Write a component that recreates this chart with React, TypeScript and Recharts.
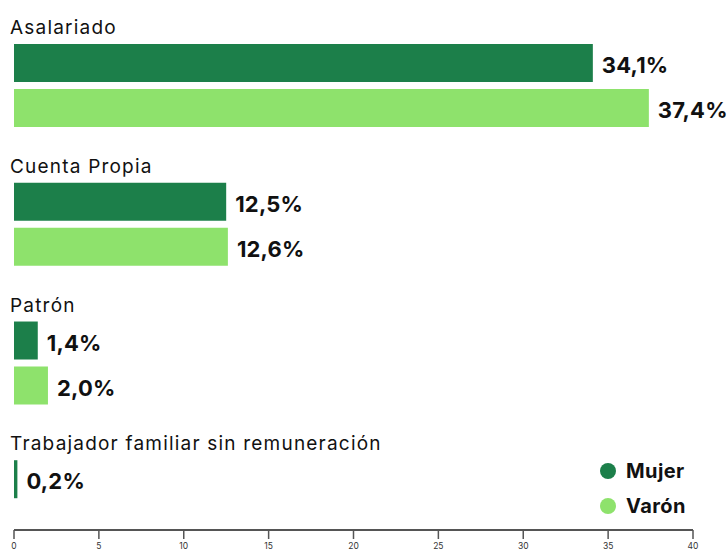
import React from 'react';
import { BarChart, Bar, XAxis, YAxis, Legend, LabelList } from 'recharts';

const categorias = ['Asalariado', 'Cuenta Propia', 'Patrón', 'Trabajador familiar sin remuneración'];
const mujer = [34.1, 12.5, 1.4, 0.2];
const varon: (number | null)[] = [37.4, 12.6, 2.0, null];
const ejeTicks = [0, 5, 10, 15, 20, 25, 30, 35, 40];

const COLOR_MUJER = '#1c7f4a';
const COLOR_VARON = '#8ee26c';
const FONT = 'Inter, "Noto Sans", sans-serif';

const data = categorias.map((categoria, i) => ({
  idx: i,
  categoria,
  mujer: mujer[i],
  varon: varon[i],
}));

const fmt = (v: number) => `${v.toFixed(1).replace('.', ',')}%`;

// etiqueta de categoría encima de cada grupo (se ancla a la barra Mujer)
const CategoriaLabel = (props: any) => {
  const { y, value } = props;
  return (
    <text x={10} y={y - 10} fontSize={19} letterSpacing={1.2} fontFamily={FONT} fill="#111">
      {value}
    </text>
  );
};

const ValorLabel = (props: any) => {
  const { x, y, width, height, value } = props;
  if (value == null) return null;
  return (
    <text
      x={x + width + 9}
      y={y + height / 2 + 2}
      dominantBaseline="central"
      fontSize={22}
      letterSpacing={0.2}
      fontWeight={700}
      fontFamily={FONT}
      fill="#111"
    >
      {fmt(Number(value))}
    </text>
  );
};

const Leyenda = () => (
  <div style={{ fontFamily: FONT }}>
    {[
      { name: 'Mujer', color: COLOR_MUJER },
      { name: 'Varón', color: COLOR_VARON },
    ].map((item) => (
      <div key={item.name} style={{ display: 'flex', alignItems: 'center', height: 35 }}>
        <div style={{ width: 16, height: 16, borderRadius: 8, background: item.color, marginRight: 10 }} />
        <span style={{ fontSize: 20, fontWeight: 700, letterSpacing: 0.4, color: '#111' }}>{item.name}</span>
      </div>
    ))}
  </div>
);

export default function App() {
  return (
    <div style={{ position: 'absolute', left: 0, top: 0, background: '#fff' }}>
      <BarChart
        width={728}
        height={554}
        data={data}
        layout="vertical"
        margin={{ top: 10, right: 35, left: 14, bottom: 0 }}
        barSize={38}
        barGap={7}
      >
        <XAxis
          type="number"
          domain={[0, 40]}
          ticks={ejeTicks}
          height={24}
          axisLine={{ stroke: '#555', strokeWidth: 2 }}
          tickLine={{ stroke: '#555', strokeWidth: 1.5 }}
          tickSize={9}
          tickMargin={4}
          tick={{ fontSize: 8.5, fill: '#333', fontFamily: FONT }}
        />
        <YAxis
          type="number"
          dataKey="idx"
          domain={[-0.544, 3.205]}
          allowDataOverflow
          ticks={[0, 1, 2, 3]}
          width={0}
          axisLine={false}
          tickLine={false}
          tick={false}
        />
        <Legend
          layout="horizontal"
          align="center"
          verticalAlign="middle"
          content={<Leyenda />}
          wrapperStyle={{ position: 'absolute', left: 600, top: 453, width: 'auto', height: 'auto' }}
        />
        <Bar dataKey="mujer" name="Mujer" fill={COLOR_MUJER} isAnimationActive={false}>
          <LabelList dataKey="categoria" content={<CategoriaLabel />} />
          <LabelList dataKey="mujer" content={<ValorLabel />} />
        </Bar>
        <Bar dataKey="varon" name="Varón" fill={COLOR_VARON} isAnimationActive={false}>
          <LabelList dataKey="varon" content={<ValorLabel />} />
        </Bar>
      </BarChart>
    </div>
  );
}
